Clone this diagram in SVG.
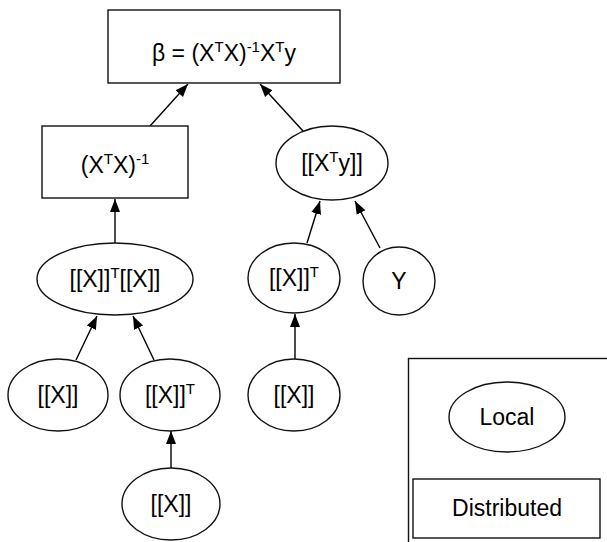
<svg xmlns="http://www.w3.org/2000/svg" width="607" height="542" viewBox="0 0 607 542">
<style>
.s{fill:#fff;stroke:#111;stroke-width:1.4}
.t{font-family:"Liberation Sans",Arial,sans-serif;font-size:23px;text-anchor:middle;fill:#000}
.e{stroke:#000;stroke-width:1.4;fill:none;marker-end:url(#ah)}
.u{font-size:15px}
</style>
<defs>
<marker id="ah" markerUnits="userSpaceOnUse" markerWidth="14" markerHeight="14" viewBox="0 0 14 14" refX="13" refY="7" orient="auto">
<path d="M0,2 L13,7 L0,12 Z" fill="#000"/>
</marker>
</defs>
<rect x="0" y="0" width="607" height="542" fill="#fff"/>
<g id="connectors">
<line class="e" x1="150" y1="126" x2="188" y2="84"/>
<line class="e" x1="303" y1="131" x2="260" y2="84"/>
<line class="e" x1="115" y1="243" x2="115" y2="199"/>
<line class="e" x1="76" y1="360" x2="97" y2="316"/>
<line class="e" x1="154" y1="360" x2="133" y2="316"/>
<line class="e" x1="171" y1="468" x2="171" y2="431"/>
<line class="e" x1="307" y1="243" x2="320" y2="201"/>
<line class="e" x1="380" y1="248" x2="355" y2="201"/>
<line class="e" x1="295" y1="359" x2="295" y2="314"/>
</g>
<g id="beta">
<rect class="s" x="108" y="10" width="232" height="73"/>
<text class="t" x="224" y="61">β = (X<tspan class="u" dy="-9">T</tspan><tspan dy="9">X)</tspan><tspan class="u" dy="-9">-1</tspan><tspan dy="9">X</tspan><tspan class="u" dy="-9">T</tspan><tspan dy="9">y</tspan></text>
</g>
<g id="xtx_inv">
<rect class="s" x="42" y="126" width="146" height="72"/>
<text class="t" x="115" y="173">(X<tspan class="u" dy="-9">T</tspan><tspan dy="9">X)</tspan><tspan class="u" dy="-9">-1</tspan></text>
</g>
<g id="xty">
<ellipse class="s" cx="332" cy="163" rx="56" ry="37"/>
<text class="t" x="332" y="171">[[X<tspan class="u" dy="-9">T</tspan><tspan dy="9">y]]</tspan></text>
</g>
<g id="xtx">
<ellipse class="s" cx="115" cy="279" rx="78" ry="36"/>
<text class="t" x="115" y="287">[[X]]<tspan class="u" dy="-9">T</tspan><tspan dy="9">[[X]]</tspan></text>
</g>
<g id="xt_right">
<ellipse class="s" cx="294" cy="278" rx="46" ry="35"/>
<text class="t" x="294" y="286">[[X]]<tspan class="u" dy="-9">T</tspan></text>
</g>
<g id="y">
<ellipse class="s" cx="399" cy="281" rx="36" ry="34"/>
<text class="t" x="399" y="289">Y</text>
</g>
<g id="x_left">
<ellipse class="s" cx="58" cy="395" rx="50" ry="36"/>
<text class="t" x="58" y="403">[[X]]</text>
</g>
<g id="xt_mid">
<ellipse class="s" cx="170" cy="395" rx="50" ry="36"/>
<text class="t" x="170" y="403">[[X]]<tspan class="u" dy="-9">T</tspan></text>
</g>
<g id="x_right">
<ellipse class="s" cx="294" cy="395" rx="46" ry="36"/>
<text class="t" x="294" y="403">[[X]]</text>
</g>
<g id="x_bottom">
<ellipse class="s" cx="171" cy="504" rx="49" ry="36"/>
<text class="t" x="171" y="512">[[X]]</text>
</g>
<g id="legend">
<rect class="s" x="408.5" y="358.5" width="220" height="200"/>
<ellipse class="s" cx="507" cy="417" rx="58" ry="35"/>
<text class="t" x="507" y="425">Local</text>
<rect class="s" x="413" y="479" width="187" height="59"/>
<text class="t" x="507" y="516">Distributed</text>
</g>
</svg>
